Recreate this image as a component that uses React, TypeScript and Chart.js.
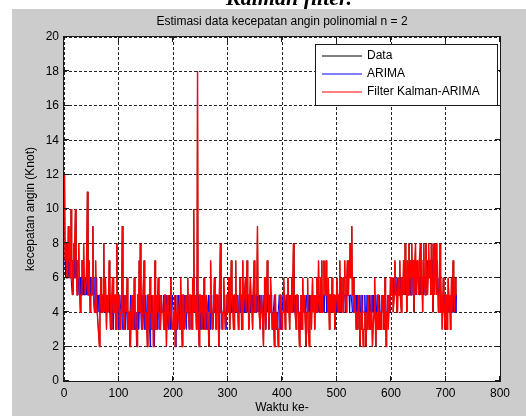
import React, { useEffect, useRef } from "react";
import { Chart, registerables } from "chart.js";

Chart.register(...registerables);

const chartTitle = "Estimasi data kecepatan angin polinomial n = 2";
const xAxisTitle = "Waktu ke-";
const yAxisTitle = "kecepatan angin (Knot)";
const seriesNames = ["Data", "ARIMA", "Filter Kalman-ARIMA"];
const xTicks = [0, 100, 200, 300, 400, 500, 600, 700, 800];
const yTicks = [0, 2, 4, 6, 8, 10, 12, 14, 16, 18, 20];

// Measured wind speed (hidden under the Kalman line in the reference)
const dataValues = [
  12,7,7,8,6,6,7,9,7,7, 6,6,10,7,7,5,6,8,7,7, 10,6,6,5,7,7,8,6,6,4, 5,5,7,7,6,8,6,6,5,5,
  6,6,11,5,5,7,7,4,5,5, 6,6,9,5,5,4,4,7,5,5, 4,4,3,3,2,5,5,6,4,4, 5,5,8,4,4,6,6,3,5,5,
  4,4,7,5,5,3,3,5,6,6, 4,4,5,5,3,3,8,4,4,5, 5,3,3,4,4,6,9,4,4,3, 3,5,5,4,4,6,3,3,4,4,
  2,2,4,4,5,3,3,4,6,4, 4,3,3,2,5,5,4,7,4,8, 4,4,3,3,5,5,7,4,4,3, 4,4,2,5,5,3,3,6,4,4,
  3,3,5,2,4,4,7,3,3,5, 4,4,6,4,4,3,3,5,5,4, 4,4,3,3,5,5,4,2,4,4, 5,5,3,3,4,6,4,4,3,3,
  4,4,5,2,4,4,3,5,5,4, 4,3,3,6,4,4,2,5,5,4, 3,3,4,5,5,4,6,4,4,3, 5,5,4,4,3,6,4,10,4,4,
  5,5,3,4,18,4,4,2,5,5, 4,4,3,5,5,4,6,3,3,4, 5,5,4,3,3,2,4,4,7,5, 5,3,3,4,4,6,4,4,3,5,
  5,4,4,2,5,5,8,4,4,3, 4,4,6,5,5,3,3,4,5,5, 4,6,6,3,4,4,7,5,5,4, 3,3,5,5,7,4,4,5,5,3,
  4,4,6,5,5,3,3,7,4,4, 5,5,6,4,4,7,5,5,3,4, 4,6,6,4,4,3,5,5,7,4, 4,5,5,6,9,5,5,4,4,3,
  3,5,5,4,4,2,4,6,6,3, 4,4,7,5,5,3,4,4,6,5, 5,3,3,4,4,2,5,5,3,3, 4,4,2,3,3,5,5,4,4,3,
  4,4,6,5,5,3,4,4,5,5, 6,4,4,3,5,5,4,6,4,4, 8,5,5,4,4,3,5,5,4,4, 3,2,4,4,5,3,3,6,4,4,
  5,5,3,2,4,4,6,3,3,2, 4,4,5,3,3,6,4,4,5,3, 5,5,4,6,6,4,7,5,5,4, 6,6,7,4,5,5,7,6,6,5,
  7,5,5,4,6,6,3,5,5,4, 4,6,4,4,5,5,3,4,4,5, 6,6,4,5,5,7,4,4,6,5, 5,4,6,6,7,5,5,4,6,7,
  5,5,7,6,8,6,6,9,5,6, 6,4,4,5,5,3,4,4,3,5, 4,4,2,3,3,5,4,4,2,3, 3,4,4,2,3,3,4,5,5,3,
  4,4,3,5,5,2,3,3,4,6, 4,2,4,4,3,5,5,3,4,4, 3,3,5,4,4,5,3,3,6,4, 2,4,4,5,3,3,5,4,6,6,
  5,5,6,4,4,5,7,6,6,5, 4,4,6,5,5,7,5,5,4,6, 6,5,7,7,5,8,6,6,4,7, 7,5,8,6,6,7,5,8,6,6,
  7,4,6,6,8,5,5,7,6,6, 5,7,7,8,5,6,6,4,7,8, 6,6,5,8,7,7,5,6,8,6, 7,7,5,8,6,6,4,7,8,5,
  6,6,8,5,7,7,4,5,5,8, 4,4,5,3,3,6,4,4,3,5, 5,3,3,4,6,6,4,5,3,4, 6,4,4,7,5,5,4,6,5,5,
];

const arimaValues = [
  7,7,6,6,7,7,6,7,7,6, 6,7,6,6,5,6,7,6,6,7, 6,6,7,6,5,6,6,5,6,6, 5,6,6,5,6,5,5,6,5,6,
  5,5,6,5,6,5,5,6,5,5, 6,5,5,6,5,4,5,5,6,5, 5,4,5,5,4,5,4,4,5,5, 4,5,5,4,5,4,5,4,4,5,
  4,4,5,4,3,4,5,4,4,3, 4,5,4,4,3,4,4,5,4,3, 4,3,4,4,5,4,3,4,4,5, 4,4,3,4,5,4,3,4,4,3,
  4,5,4,3,4,4,5,4,3,4, 3,4,2,4,5,4,3,4,4,5, 4,3,4,4,5,4,3,4,4,5, 4,4,3,5,4,4,3,2,4,4,
  5,4,4,3,4,2,4,5,4,4, 4,3,4,5,4,4,3,4,5,4, 4,4,5,4,3,4,4,5,4,4, 3,4,5,4,4,3,4,4,5,4,
  4,3,4,5,2,4,4,3,4,5, 4,4,3,4,5,4,4,3,4,4, 5,4,4,3,4,4,5,4,4,3, 4,5,4,4,3,4,4,5,4,4,
  5,4,4,6,4,5,4,3,4,4, 3,4,4,5,4,3,4,5,4,4, 4,3,4,4,5,4,4,3,4,5, 4,4,3,4,4,5,4,4,3,4,
  4,5,4,4,3,4,5,4,4,4, 3,4,4,5,4,4,3,4,4,5, 4,4,5,4,4,5,4,4,5,4, 4,5,4,4,5,4,4,4,5,4,
  4,4,5,4,4,5,4,4,4,5, 5,4,4,5,4,5,4,4,5,4, 4,5,4,4,5,4,4,5,4,4, 5,4,4,5,5,4,4,5,4,4,
  4,5,4,4,3,4,5,4,4,3, 4,4,5,4,4,5,5,4,4,5, 4,4,3,4,4,5,4,4,3,4, 4,3,4,4,5,4,4,3,4,4,
  4,5,4,4,5,4,4,5,4,4, 5,4,4,5,4,4,5,4,4,5, 4,5,4,4,5,4,4,4,5,4, 4,4,3,4,4,3,4,4,5,4,
  4,5,4,4,5,4,5,4,4,5, 4,4,5,4,4,5,4,4,5,4, 5,4,5,5,4,5,5,4,5,5, 5,5,4,5,5,5,4,5,5,5,
  5,4,5,5,4,5,4,5,5,4, 4,5,4,5,4,4,5,4,5,4, 5,4,5,5,4,5,5,4,5,5, 5,5,4,5,5,5,4,5,5,5,
  5,5,5,4,5,5,5,5,4,5, 5,4,5,5,4,5,4,5,4,4, 4,4,5,4,4,4,5,4,4,4, 4,5,4,4,4,5,4,4,4,5,
  4,4,4,5,4,4,5,4,4,4, 5,4,4,4,5,4,4,4,5,4, 4,4,5,4,4,4,5,4,4,5, 4,4,4,5,4,5,4,5,5,5,
  5,5,5,6,5,5,5,6,5,5, 5,6,5,5,6,5,5,6,5,5, 5,6,5,6,5,6,5,6,5,6, 6,5,6,6,5,6,6,5,6,6,
  6,6,5,6,6,6,5,6,6,6, 6,5,6,6,6,5,6,6,6,5, 6,6,6,5,6,6,7,6,6,7, 6,7,7,6,7,6,7,7,6,6,
  7,6,6,7,6,6,5,6,6,5, 6,5,5,4,5,5,4,5,4,5, 4,5,4,5,4,4,5,4,5,4, 5,4,5,4,5,5,4,5,4,5,
];

const kalmanValues = [
  12,7,7,8,6,6,7,9,7,7, 6,6,10,7,7,5,6,8,7,7, 10,6,6,5,7,7,8,6,6,4, 5,5,7,7,6,8,6,6,5,5,
  6,6,11,5,5,7,7,4,5,5, 6,6,9,5,5,4,4,7,5,5, 4,4,3,3,2,5,5,6,4,4, 5,5,8,4,4,6,6,3,5,5,
  4,4,7,5,5,3,3,5,6,6, 4,4,5,5,3,3,8,4,4,5, 5,3,3,4,4,6,9,4,4,3, 3,5,5,4,4,6,3,3,4,4,
  2,2,4,4,5,3,3,4,6,4, 4,3,3,2,5,5,4,7,4,8, 4,4,3,3,5,5,7,4,4,3, 4,4,2,5,5,3,3,6,4,4,
  3,3,5,2,4,4,7,3,3,5, 4,4,6,4,4,3,3,5,5,4, 4,4,3,3,5,5,4,2,4,4, 5,5,3,3,4,6,4,4,3,3,
  4,4,5,2,4,4,3,5,5,4, 4,3,3,6,4,4,2,5,5,4, 3,3,4,5,5,4,6,4,4,3, 5,5,4,4,3,6,4,10,4,4,
  5,5,3,4,18,4,4,2,5,5, 4,4,3,5,5,4,6,3,3,4, 5,5,4,3,3,2,4,4,7,5, 5,3,3,4,4,6,4,4,3,5,
  5,4,4,2,5,5,8,4,4,3, 4,4,6,5,5,3,3,4,5,5, 4,6,6,3,4,4,7,5,5,4, 3,3,5,5,7,4,4,5,5,3,
  4,4,6,5,5,3,3,7,4,4, 5,5,6,4,4,7,5,5,3,4, 4,6,6,4,4,3,5,5,7,4, 4,5,5,6,9,5,5,4,4,3,
  3,5,5,4,4,2,4,6,6,3, 4,4,7,5,5,3,4,4,6,5, 5,3,3,4,4,2,5,5,3,3, 4,4,2,3,3,5,5,4,4,3,
  4,4,6,5,5,3,4,4,5,5, 6,4,4,3,5,5,4,6,4,4, 8,5,5,4,4,3,5,5,4,4, 3,2,4,4,5,3,3,6,4,4,
  5,5,3,2,4,4,6,3,3,2, 4,4,5,3,3,6,4,4,5,3, 5,5,4,6,6,4,7,5,5,4, 6,6,7,4,5,5,7,6,6,5,
  7,5,5,4,6,6,3,5,5,4, 4,6,4,4,5,5,3,4,4,5, 6,6,4,5,5,7,4,4,6,5, 5,4,6,6,7,5,5,4,6,7,
  5,5,7,6,8,6,6,9,5,6, 6,4,4,5,5,3,4,4,3,5, 4,4,2,3,3,5,4,4,2,3, 3,4,4,2,3,3,4,5,5,3,
  4,4,3,5,5,2,3,3,4,6, 4,2,4,4,3,5,5,3,4,4, 3,3,5,4,4,5,3,3,6,4, 2,4,4,5,3,3,5,4,6,6,
  5,5,6,4,4,5,7,6,6,5, 4,4,6,5,5,7,5,5,4,6, 6,5,7,7,5,8,6,6,4,7, 7,5,8,6,6,7,5,8,6,6,
  7,4,6,6,8,5,5,7,6,6, 5,7,7,8,5,6,6,4,7,8, 6,6,5,8,7,7,5,6,8,6, 7,7,5,8,6,6,4,7,8,5,
  6,6,8,5,7,7,4,5,5,8, 4,4,5,3,3,6,4,4,3,5, 5,3,3,4,6,6,4,5,3,4, 6,4,4,7,5,5,4,6,5,5,
];

const seriesColors = ["#000000", "#0000ff", "#ff0000"];
const seriesWidths = [0.8, 1, 1.4];
const FONT = '"Liberation Sans", Arial, Helvetica, sans-serif';

const toPoints = (vals: number[]) => vals.map((y, i) => ({ x: i + 1, y }));

const decorPlugin = {
  id: "decor",
  beforeDraw(chart: any) {
    const { ctx, chartArea: a, width, height } = chart;
    ctx.save();
    ctx.fillStyle = "#ffffff";
    ctx.fillRect(0, 0, width, height);
    ctx.fillStyle = "#000";
    ctx.font = "italic bold 22px 'Liberation Serif', serif";
    ctx.textAlign = "left";
    ctx.textBaseline = "alphabetic";
    ctx.fillText("Kalman filter.", 226, 5);
    ctx.fillStyle = "#cccccc";
    ctx.fillRect(12, 9, width - 12, height - 9);
    ctx.fillStyle = "#ffffff";
    ctx.fillRect(a.left, a.top, a.right - a.left, a.bottom - a.top);
    ctx.restore();
  },
  afterDraw(chart: any) {
    const { ctx, chartArea: a, scales } = chart;
    const xs = scales.x;
    const ys = scales.y;
    ctx.save();
    ctx.setLineDash([]);
    ctx.lineWidth = 1;
    // axes box
    ctx.strokeStyle = "#1a1a1a";
    ctx.strokeRect(a.left - 0.5, a.top - 0.5, a.right - a.left + 1, a.bottom - a.top + 1);
    // inward tick marks
    ctx.beginPath();
    xTicks.forEach((v) => {
      const px = Math.round(xs.getPixelForValue(v)) - 0.5;
      ctx.moveTo(px, a.bottom);
      ctx.lineTo(px, a.bottom - 5);
      ctx.moveTo(px, a.top);
      ctx.lineTo(px, a.top + 5);
    });
    yTicks.forEach((v) => {
      const py = Math.round(ys.getPixelForValue(v)) - 0.5;
      ctx.moveTo(a.left, py);
      ctx.lineTo(a.left + 5, py);
      ctx.moveTo(a.right, py);
      ctx.lineTo(a.right - 5, py);
    });
    ctx.stroke();

    // titles
    ctx.fillStyle = "#000";
    ctx.font = `12px ${FONT}`;
    ctx.textAlign = "center";
    ctx.textBaseline = "middle";
    const cx = (a.left + a.right) / 2;
    ctx.fillText(chartTitle, cx, 22);
    ctx.fillText(xAxisTitle, cx, 408);
    ctx.save();
    ctx.translate(31, (a.top + a.bottom) / 2);
    ctx.rotate(-Math.PI / 2);
    ctx.fillText(yAxisTitle, 0, 0);
    ctx.restore();

    // legend
    const lx = 315, ly = 44, lw = 182, lh = 61;
    ctx.fillStyle = "#ffffff";
    ctx.fillRect(lx, ly, lw, lh);
    ctx.strokeStyle = "#1a1a1a";
    ctx.strokeRect(lx + 0.5, ly + 0.5, lw, lh);
    const rows = [56, 74, 92];
    seriesNames.forEach((name, i) => {
      ctx.beginPath();
      ctx.strokeStyle = seriesColors[i];
      ctx.lineWidth = 1;
      ctx.moveTo(322, rows[i]);
      ctx.lineTo(362, rows[i]);
      ctx.stroke();
      ctx.fillStyle = "#000";
      ctx.textAlign = "left";
      ctx.fillText(name, 367, rows[i]);
    });
    ctx.restore();
  },
};

export default function App() {
  const ref = useRef<HTMLCanvasElement | null>(null);
  useEffect(() => {
    if (!ref.current) return;
    const values = [dataValues, arimaValues, kalmanValues];
    const chart = new Chart(ref.current, {
      type: "line",
      data: {
        datasets: seriesNames.map((name, i) => ({
          label: name,
          data: toPoints(values[i]),
          borderColor: seriesColors[i],
          backgroundColor: seriesColors[i],
          borderWidth: seriesWidths[i],
          pointRadius: 0,
          tension: 0,
          fill: false,
          order: 3 - i,
        })),
      },
      options: {
        responsive: false,
        animation: false,
        layout: { padding: { left: 0, right: 26, top: 37, bottom: 0 } },
        plugins: { legend: { display: false }, title: { display: false }, tooltip: { enabled: false } },
        scales: {
          x: {
            type: "linear",
            min: 0,
            max: 800,
            afterBuildTicks: (s: any) => { s.ticks = xTicks.map((v) => ({ value: v })); },
            afterFit: (s: any) => { s.height = 35; },
            ticks: { color: "#000", font: { size: 12, family: FONT }, padding: 5, maxRotation: 0 },
            grid: { color: "rgba(0,0,0,0.85)", drawTicks: false, lineWidth: 1 },
            border: { display: false, dash: [3, 2] },
          },
          y: {
            min: 0,
            max: 20,
            afterBuildTicks: (s: any) => { s.ticks = yTicks.map((v) => ({ value: v })); },
            afterFit: (s: any) => { s.width = 64; },
            ticks: { color: "#000", font: { size: 12, family: FONT }, padding: 5 },
            grid: { color: "rgba(0,0,0,0.85)", drawTicks: false, lineWidth: 1 },
            border: { display: false, dash: [3, 2] },
          },
        },
      },
      plugins: [decorPlugin],
    });
    return () => chart.destroy();
  }, []);
  return (
    <div style={{ position: "fixed", left: 0, top: 0, width: 526, height: 416 }}>
      <canvas ref={ref} width={526} height={416} />
    </div>
  );
}
